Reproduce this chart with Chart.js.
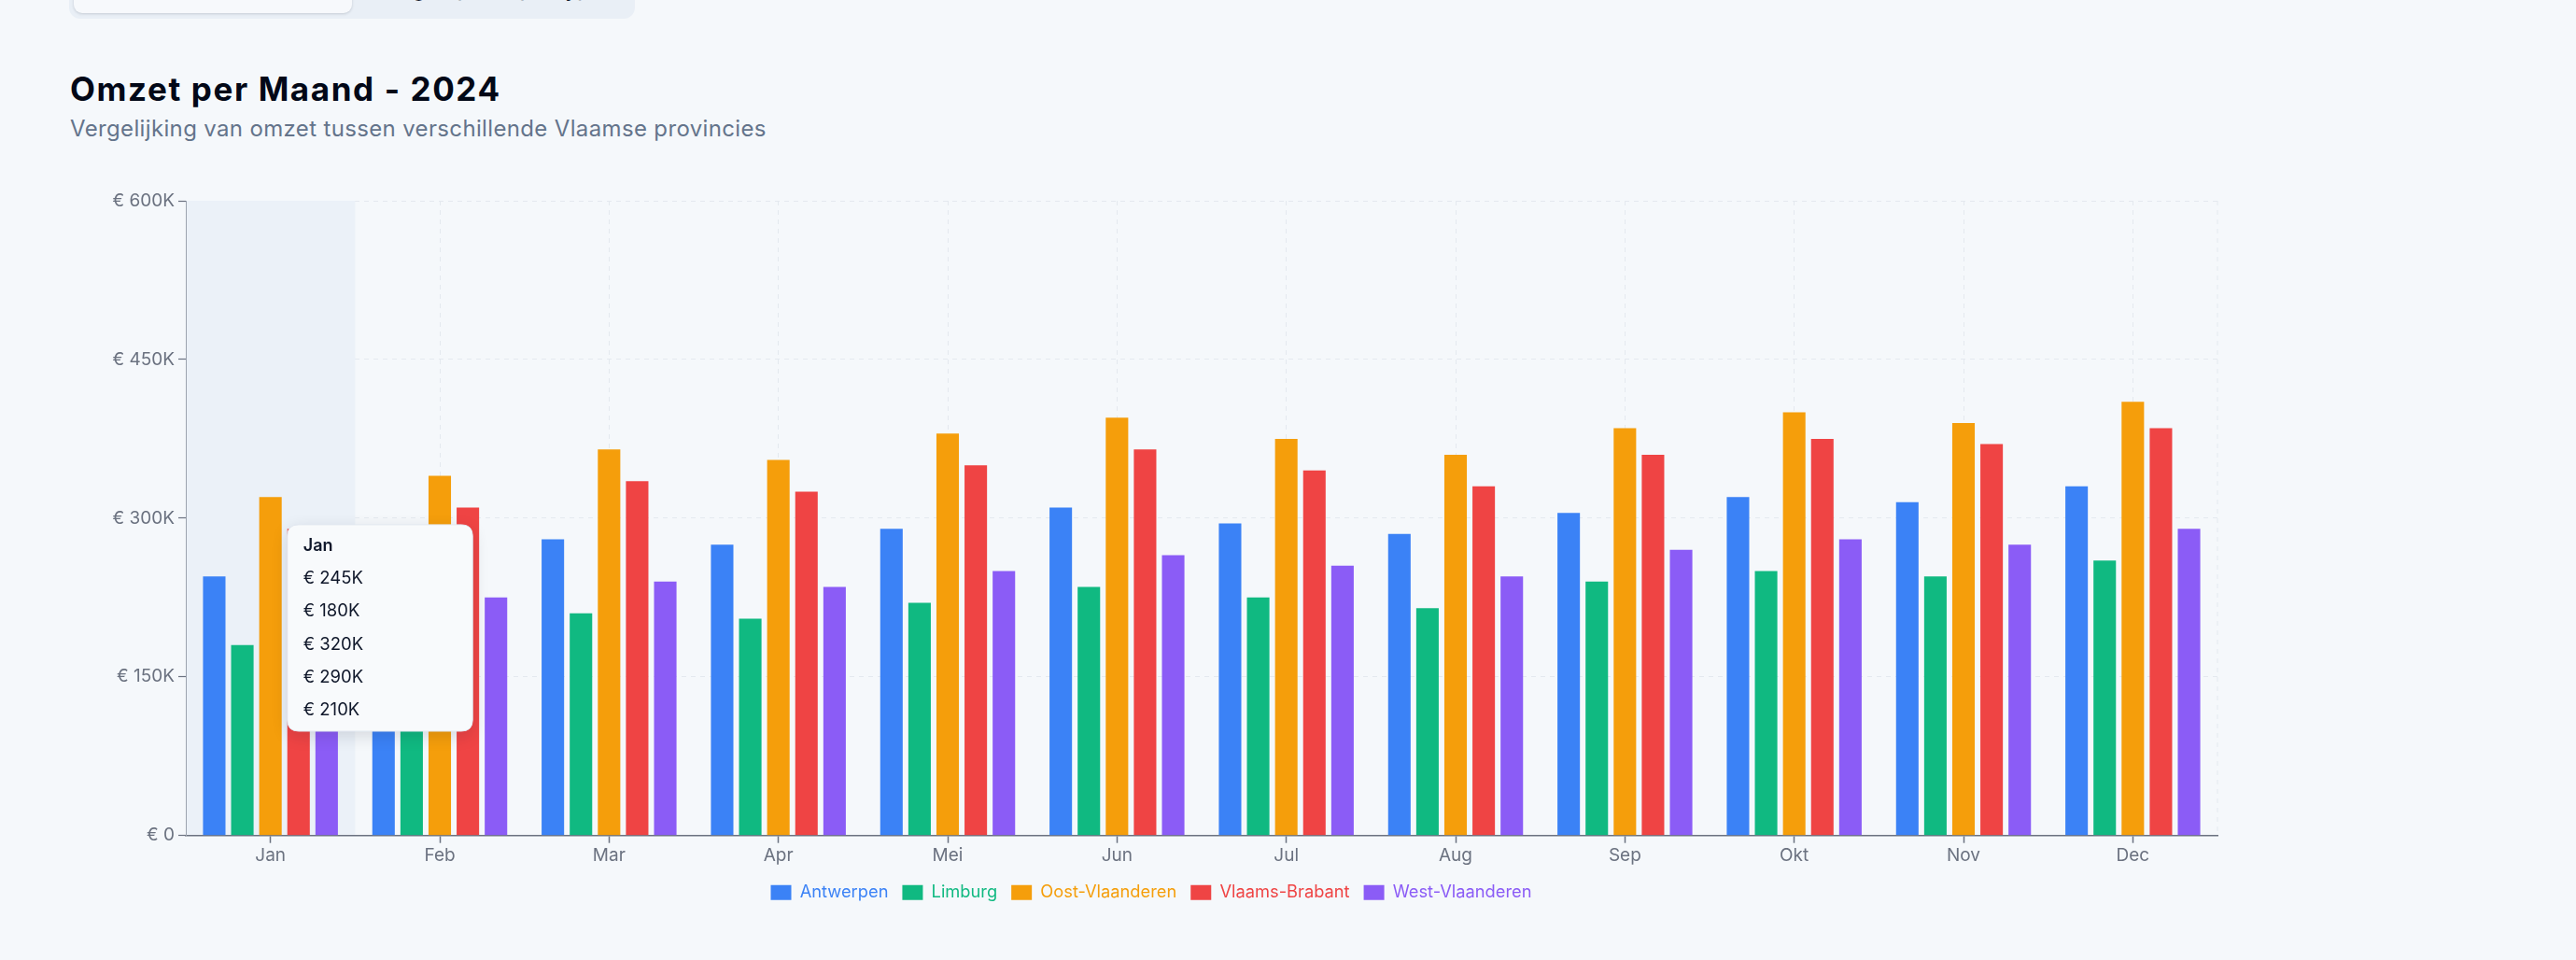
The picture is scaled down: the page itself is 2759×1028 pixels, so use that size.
<!DOCTYPE html>
<html>
<head>
<meta charset="utf-8">
<script src="https://cdn.jsdelivr.net/npm/chart.js@4.4.0/dist/chart.umd.min.js"></script>
<style>
  html, body { margin:0; padding:0; width:2759px; height:1028px; overflow:hidden; background:#f5f8fb; font-family:Inter, "Noto Sans", sans-serif; }
  .tabs { position:absolute; left:74px; top:-40px; width:606px; height:60px; background:#e9eff6; border-radius:12px; }
  .tab-active { position:absolute; left:5px; top:0; width:298px; height:54px; background:#f7f9fc; border-radius:9px; box-shadow:0 1px 3px rgba(15,23,42,0.16); }
  .tab2 { position:absolute; left:303px; top:0; width:303px; height:54px; text-align:center; font-size:22px; line-height:22px; color:#0f172a; font-weight:500; }
  .tab2 span { position:absolute; left:0; right:0; top:17px; }
  h1 { position:absolute; left:75px; top:78px; margin:0; font-size:35px; line-height:35px; font-weight:700; color:#020817; letter-spacing:1.6px; }
  .sub { position:absolute; left:75px; top:126px; margin:0; font-size:24px; line-height:24px; color:#64748b; letter-spacing:0.35px; }
  .wrap { position:absolute; left:75px; top:190px; width:2316px; height:810px; }
</style>
</head>
<body>
<div class="tabs"><div class="tab-active"></div><div class="tab2"><span>Gegroepeerd per type</span></div></div>
<h1>Omzet per Maand - 2024</h1>
<p class="sub">Vergelijking van omzet tussen verschillende Vlaamse provincies</p>
<div class="wrap"><canvas id="c"></canvas></div>
<script>
// ---- data (values in thousands of euro) ----
const months = ['Jan','Feb','Mar','Apr','Mei','Jun','Jul','Aug','Sep','Okt','Nov','Dec'];
const seriesNames = ['Antwerpen','Limburg','Oost-Vlaanderen','Vlaams-Brabant','West-Vlaanderen'];
const antwerpen      = [245,265,280,275,290,310,295,285,305,320,315,330];
const limburg        = [180,195,210,205,220,235,225,215,240,250,245,260];
const oostVlaanderen = [320,340,365,355,380,395,375,360,385,400,390,410];
const vlaamsBrabant  = [290,310,335,325,350,365,345,330,360,375,370,385];
const westVlaanderen = [210,225,240,235,250,265,255,245,270,280,275,290];
const yTickValues = [0,150,300,450,600];
const activeMonth = 0;

const colors = ['#3b82f6','#10b981','#f59e0b','#ef4444','#8b5cf6'];
const seriesValues = [antwerpen, limburg, oostVlaanderen, vlaamsBrabant, westVlaanderen];

Chart.defaults.font.family = 'Inter, "Noto Sans", sans-serif';

const gridColor = '#e4e9ef';

const bandPlugin = {
  id: 'band',
  beforeDatasetsDraw(chart) {
    const x = chart.scales.x, a = chart.chartArea, ctx = chart.ctx;
    const w = (a.right - a.left) / months.length;
    const cx = x.getPixelForValue(activeMonth);
    ctx.save();
    ctx.fillStyle = '#ebf1f8';
    const l = Math.max(cx - w/2, a.left + 1);
    ctx.fillRect(l, a.top, cx + w/2 - l, a.bottom - a.top - 1);
    ctx.restore();
  }
};

const edgePlugin = {
  id: 'edge',
  beforeDatasetsDraw(chart) {
    const a = chart.chartArea, ctx = chart.ctx;
    ctx.save();
    ctx.strokeStyle = gridColor; ctx.lineWidth = 1; ctx.setLineDash([5,5]);
    ctx.beginPath(); ctx.moveTo(a.right, a.top); ctx.lineTo(a.right, a.bottom); ctx.stroke();
    ctx.restore();
  }
};

const shadowPlugin = {
  id: 'tipShadow',
  beforeTooltipDraw(chart, args) {
    const t = args.tooltip;
    if (!t || !t.opacity) return;
    const ctx = chart.ctx;
    ctx.save();
    ctx.shadowColor = 'rgba(15,23,42,0.14)';
    ctx.shadowBlur = 18; ctx.shadowOffsetY = 5;
    ctx.fillStyle = '#f8fafc';
    ctx.beginPath();
    ctx.roundRect(t.x, t.y, t.width, t.height, 12);
    ctx.fill();
    ctx.restore();
  }
};

Chart.Tooltip.positioners.pinned = function(elements) {
  if (!elements.length) return false;
  const a = this.chart.chartArea;
  const w = (a.right - a.left) / months.length;
  const xs = elements.map(e => e.element.x);
  const cx = (Math.min(...xs) + Math.max(...xs)) / 2;
  return { x: cx + w * 0.1, y: a.top + (a.bottom - a.top) * 0.673, xAlign: 'left', yAlign: 'center' };
};

const chart = new Chart(document.getElementById('c'), {
  type: 'bar',
  data: {
    labels: months,
    datasets: seriesNames.map((n, i) => ({
      label: n,
      data: seriesValues[i],
      backgroundColor: colors[i],
      hoverBackgroundColor: colors[i],
      borderWidth: 0,
      categoryPercentage: 0.83,
      barPercentage: 0.8
    }))
  },
  options: {
    responsive: true,
    maintainAspectRatio: false,
    animation: false,
    events: [],
    layout: { padding: { top: 25, right: 16, left: 16, bottom: 25 } },
    scales: {
      x: {
        grid: { offset: false, color: gridColor, tickColor: '#6b7280', tickLength: 8, tickWidth: 1.5 },
        border: { display: true, color: '#6b7280', width: 1.5, dash: [5,5] },
        ticks: { color: '#6b7280', font: { size: 19 }, padding: 2, maxRotation: 0 },
        afterFit(s) { s.height = 37; }
      },
      y: {
        min: 0, max: 600,
        afterBuildTicks(s) { s.ticks = yTickValues.map(v => ({ value: v })); },
        grid: { color: gridColor, tickColor: '#6b7280', tickLength: 8, tickWidth: 1.2 },
        border: { display: true, color: '#9ca3af', width: 1, dash: [5,5] },
        ticks: { color: '#6b7280', font: { size: 19 }, padding: 4,
          callback: v => v === 0 ? '€ 0' : '€ ' + v + 'K' },
        afterFit(s) { s.width = 108; }
      }
    },
    plugins: {
      legend: {
        position: 'bottom',
        labels: {
          boxWidth: 22, boxHeight: 16, padding: 15, font: { size: 18.3 },
          generateLabels: (c) => Chart.defaults.plugins.legend.labels.generateLabels(c)
            .map(l => Object.assign(l, { fontColor: l.fillStyle, lineWidth: 0, strokeStyle: l.fillStyle }))
        }
      },
      tooltip: {
        position: 'pinned', mode: 'index', intersect: false,
        backgroundColor: '#f8fafc', borderColor: '#e2e8f0', borderWidth: 1,
        titleColor: '#0f172a', bodyColor: '#0f172a',
        titleFont: { size: 18, weight: '600' }, bodyFont: { size: 18.5, weight: '400' },
        titleMarginBottom: 13.5, bodySpacing: 13,
        padding: { top: 11.5, bottom: 11.5, left: 17, right: 117 },
        cornerRadius: 12, displayColors: false, caretSize: 0, caretPadding: 0,
        callbacks: { label: (ctx) => '€ ' + ctx.parsed.y + 'K' }
      }
    }
  },
  plugins: [bandPlugin, edgePlugin, shadowPlugin]
});

chart.tooltip.setActiveElements(
  seriesNames.map((n, i) => ({ datasetIndex: i, index: activeMonth })),
  { x: 0, y: 0 }
);
chart.update();
</script>
</body>
</html>
